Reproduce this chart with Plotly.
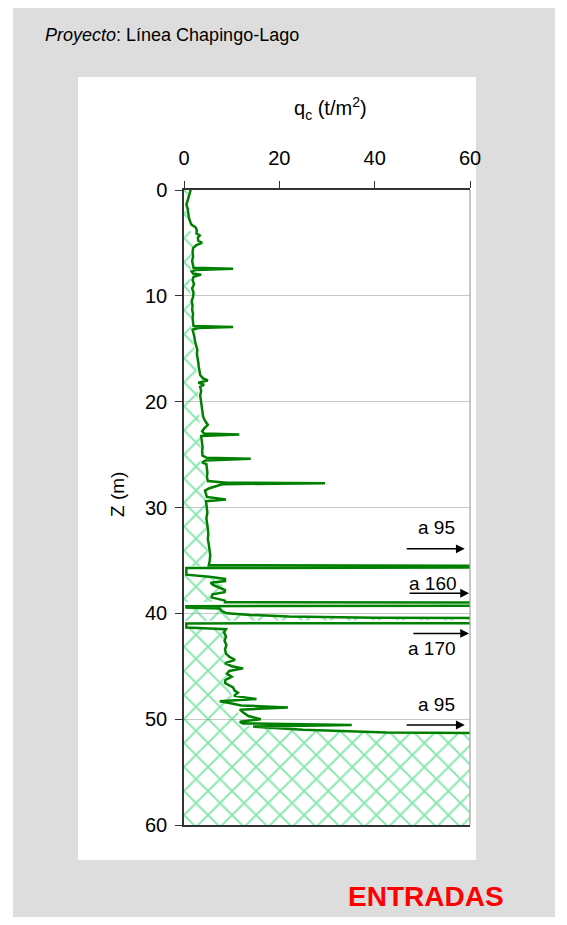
import plotly.graph_objects as go

# ---------------- data ----------------
depth_m = [0.0, 0.3, 0.6, 1.0, 1.4, 1.8, 2.2, 2.6, 3.0, 3.3, 3.5, 3.8, 4.1, 4.3, 4.5, 4.8, 5.0, 5.2, 5.5, 5.9,
           6.3, 6.7, 7.1, 7.35, 7.45, 7.55, 7.7, 7.9, 8.0, 8.2, 8.5, 8.9, 9.3, 9.7, 10.1, 10.5, 10.9, 11.3, 11.7, 12.1,
           12.5, 12.85, 12.95, 13.05, 13.2, 13.5, 13.9, 14.3, 14.7, 15.1, 15.5, 15.9, 16.3, 16.7, 17.1, 17.5, 17.8, 18.0, 18.2, 18.4,
           18.6, 19.0, 19.4, 19.8, 20.2, 20.6, 21.0, 21.4, 21.8, 22.2, 22.5, 22.8, 23.0, 23.1, 23.25, 23.5, 23.9, 24.3, 24.7, 25.1,
           25.3, 25.4, 25.55, 25.75, 25.9, 26.3, 26.7, 27.1, 27.5, 27.65, 27.7, 27.8, 28.0, 28.2, 28.4, 28.7, 29.0, 29.25, 29.4, 29.7,
           30.0, 30.5, 31.0, 31.5, 32.0, 32.5, 33.0, 33.5, 34.0, 34.5, 35.0, 35.45, 35.55, 35.65, 35.72, 36.35, 36.55, 36.75, 36.95, 37.1,
           37.3, 37.5, 37.8, 38.0, 38.2, 38.5, 38.8, 38.95, 39.05, 39.2, 39.32, 39.45, 39.55, 39.8, 40.0, 40.15, 40.3, 40.42, 40.5, 40.9,
           40.95, 41.35, 41.5, 41.8, 42.2, 42.6, 43.0, 43.4, 43.8, 44.1, 44.4, 44.7, 45.0, 45.2, 45.45, 45.7, 46.0, 46.3, 46.6, 47.0,
           47.3, 47.5, 47.8, 48.1, 48.3, 48.5, 48.7, 48.9, 49.1, 49.4, 49.7, 50.0, 50.25, 50.4, 50.55, 50.7, 51.0, 51.25, 51.35, 51.4]
qc_t_m2 = [1.4, 1.2, 0.9, 0.7, 0.5, 0.8, 0.9, 1.0, 1.3, 1.6, 2.4, 2.7, 2.6, 3.3, 2.9, 3.0, 3.8, 2.6, 1.9, 1.8,
           1.9, 1.7, 1.9, 2.0, 10.3, 2.5, 1.6, 1.9, 3.6, 2.0, 1.8, 2.1, 1.7, 2.0, 1.9, 1.6, 1.8, 1.7, 1.9, 1.8,
           1.9, 2.0, 10.3, 3.0, 1.8, 2.0, 2.2, 2.3, 2.5, 2.8, 2.7, 2.9, 3.0, 3.1, 3.2, 3.4, 4.0, 5.0, 3.0, 4.2,
           3.4, 3.6, 3.4, 3.5, 3.6, 3.8, 3.8, 4.0, 4.4, 5.0, 4.3, 3.8, 4.2, 11.6, 3.6, 3.7, 3.8, 3.9, 3.8, 3.9,
           4.8, 14.0, 4.5, 3.8, 4.7, 4.8, 4.9, 4.8, 5.0, 9.0, 29.6, 8.0, 6.5, 5.2, 4.4, 4.6, 4.8, 8.8, 4.6, 4.7,
           4.8, 4.9, 4.7, 4.9, 5.0, 5.1, 5.0, 5.2, 5.3, 5.5, 5.4, 5.2, 95, 95, 0.5, 0.5, 5.3, 8.6, 8.6, 5.6,
           6.0, 7.0, 8.6, 8.5, 6.0, 5.8, 8.6, 8.6, 160, 160, 0.5, 0.5, 7.5, 8.0, 9.0, 14, 22, 40, 170, 170,
           0.5, 0.5, 8.8, 8.4, 8.8, 8.5, 8.9, 8.6, 8.8, 9.5, 10.7, 8.6, 10.0, 12.4, 9.5, 9.0, 10.0, 8.7, 8.6, 10.3,
           10.6, 11.3, 10.5, 15.2, 7.5, 9.8, 12.0, 21.8, 11.7, 12.5, 13.5, 16.1, 11.7, 12.4, 35.2, 14.5, 25, 42.5, 60.5, 95]

# soil (hatched) profile boundary
soil_depth_m = [0.0, 1.0, 2.5, 3.5, 5.0, 6.0, 10.0, 13.0, 15.0, 18.0, 20.0, 22.0, 24.0, 25.8, 26.2, 30.0, 34.0, 35.5,
                35.55, 36.4, 36.6, 37.0, 38.9, 38.95, 39.45, 39.55, 40.0, 40.2, 40.4, 40.55, 40.65, 40.7, 41.4, 41.5,
                44.0, 45.5, 47.0, 48.5, 50.0, 50.6, 51.0, 51.3, 51.38, 60.0]
soil_qc = [1.0, 0.5, 0.6, 1.2, 2.0, 1.5, 1.4, 1.5, 2.2, 2.8, 3.0, 3.2, 3.5, 3.5, 4.3, 4.5, 5.0, 5.0,
           0.0, 0.0, 5.0, 8.0, 8.0, 0.0, 0.0, 7.0, 8.5, 15, 35, 60, 60, 0.0, 0.0, 8.5,
           8.5, 9.0, 9.5, 10.5, 12.0, 13.0, 24, 42, 60, 60]

# off-scale notes
note_labels = ["a 95", "a 160", "a 170", "a 95"]
note_arrow_depth = [33.9, 38.1, 41.9, 50.55]
note_label_depth = [31.9, 37.2, 43.3, 48.6]
note_arrow_from = [46.4, 47.0, 47.8, 46.4]
note_arrow_to = [58.9, 59.8, 59.8, 58.9]
note_label_x = [52.9, 52.2, 52.0, 52.9]

x_ticks = [0, 20, 40, 60]
y_ticks = [0, 10, 20, 30, 40, 50, 60]

# ---------------- layout geometry (figure pixels) ----------------
W, H = 551, 909
PL, PR, PT, PB = 176, 462, 182, 817  # plot area in figure px


def px(fx):
    return (fx - PL) / (PR - PL)


def py(fy):
    return (PB - fy) / (PB - PT)


FONT = "Arial, 'Liberation Sans', sans-serif"

fig = go.Figure()

fig.add_trace(go.Scatter(
    x=soil_qc, y=soil_depth_m, mode="lines", line=dict(width=0),
    fill="tozerox", fillcolor="rgba(0,0,0,0)",
    fillpattern=dict(shape="x", fgcolor="#1ECF66", bgcolor="rgba(0,0,0,0)", size=17, solidity=0.24),
    hoverinfo="skip", showlegend=False))

fig.add_trace(go.Scatter(
    x=qc_t_m2, y=depth_m, mode="lines", line=dict(color="#008000", width=2.5),
    showlegend=False))

shapes = [
    dict(type="rect", xref="paper", yref="paper", x0=px(5), x1=px(547), y0=py(930), y1=py(-5),
         fillcolor="#DDDDDD", line=dict(width=0), layer="below"),
    dict(type="rect", xref="paper", yref="paper", x0=px(70), x1=px(468), y0=py(852), y1=py(69),
         fillcolor="white", line=dict(width=0), layer="below"),
    dict(type="line", xref="paper", yref="paper", x0=1, x1=1, y0=0, y1=1,
         line=dict(color="#A0A0A0", width=1.2)),
]

annotations = [
    dict(text="<i>Proyecto</i>: Línea Chapingo-Lago", xref="paper", yref="paper",
         x=px(35), y=py(27), xanchor="left", yanchor="middle", showarrow=False,
         font=dict(family=FONT, size=18, color="black")),
    dict(text="q<sub>c</sub> (t/m<sup>2</sup>)", xref="paper", yref="paper",
         x=px(322), y=py(101), xanchor="center", yanchor="middle", showarrow=False,
         font=dict(family=FONT, size=20, color="black")),
    dict(text="Z (m)", xref="paper", yref="paper", textangle=-90,
         x=px(109), y=py(487), xanchor="center", yanchor="middle", showarrow=False,
         font=dict(family=FONT, size=19, color="black")),
    dict(text="<b>ENTRADAS</b>", xref="paper", yref="paper",
         x=px(418), y=py(888), xanchor="center", yanchor="middle", showarrow=False,
         font=dict(family=FONT, size=28, color="#FF0000")),
]

for lab, ad, ld, a0, a1, lx in zip(note_labels, note_arrow_depth, note_label_depth,
                                   note_arrow_from, note_arrow_to, note_label_x):
    annotations.append(dict(x=a1, y=ad, ax=a0, ay=ad, xref="x", yref="y", axref="x", ayref="y",
                            text="", showarrow=True, arrowhead=2, arrowsize=1.1, arrowwidth=1.6,
                            arrowcolor="black", standoff=0, startstandoff=0))
    annotations.append(dict(x=lx, y=ld, xref="x", yref="y", text=lab, showarrow=False,
                            font=dict(family=FONT, size=19, color="black")))

fig.update_layout(
    width=W, height=H,
    margin=dict(l=PL, r=W - PR, t=PT, b=H - PB, pad=0),
    paper_bgcolor="white", plot_bgcolor="white",
    font=dict(family=FONT, size=19, color="black"),
    shapes=shapes, annotations=annotations,
    xaxis=dict(side="top", range=[0, 60], tickvals=x_ticks, ticks="outside", ticklen=7,
               tickcolor="#333333", showline=True, linecolor="#333333", linewidth=1.5, mirror=True,
               showgrid=False, zeroline=False, ticklabelstandoff=8,
               tickfont=dict(family=FONT, size=20, color="black")),
    yaxis=dict(range=[60, 0], tickvals=y_ticks, ticks="outside", ticklen=7,
               tickcolor="#333333", showline=True, linecolor="#333333", linewidth=1.5,
               showgrid=True, gridcolor="#C8C8C8", gridwidth=1, zeroline=False,
               ticklabelstandoff=4,
               tickfont=dict(family=FONT, size=20, color="black")),
)

fig.write_html("out.html")
